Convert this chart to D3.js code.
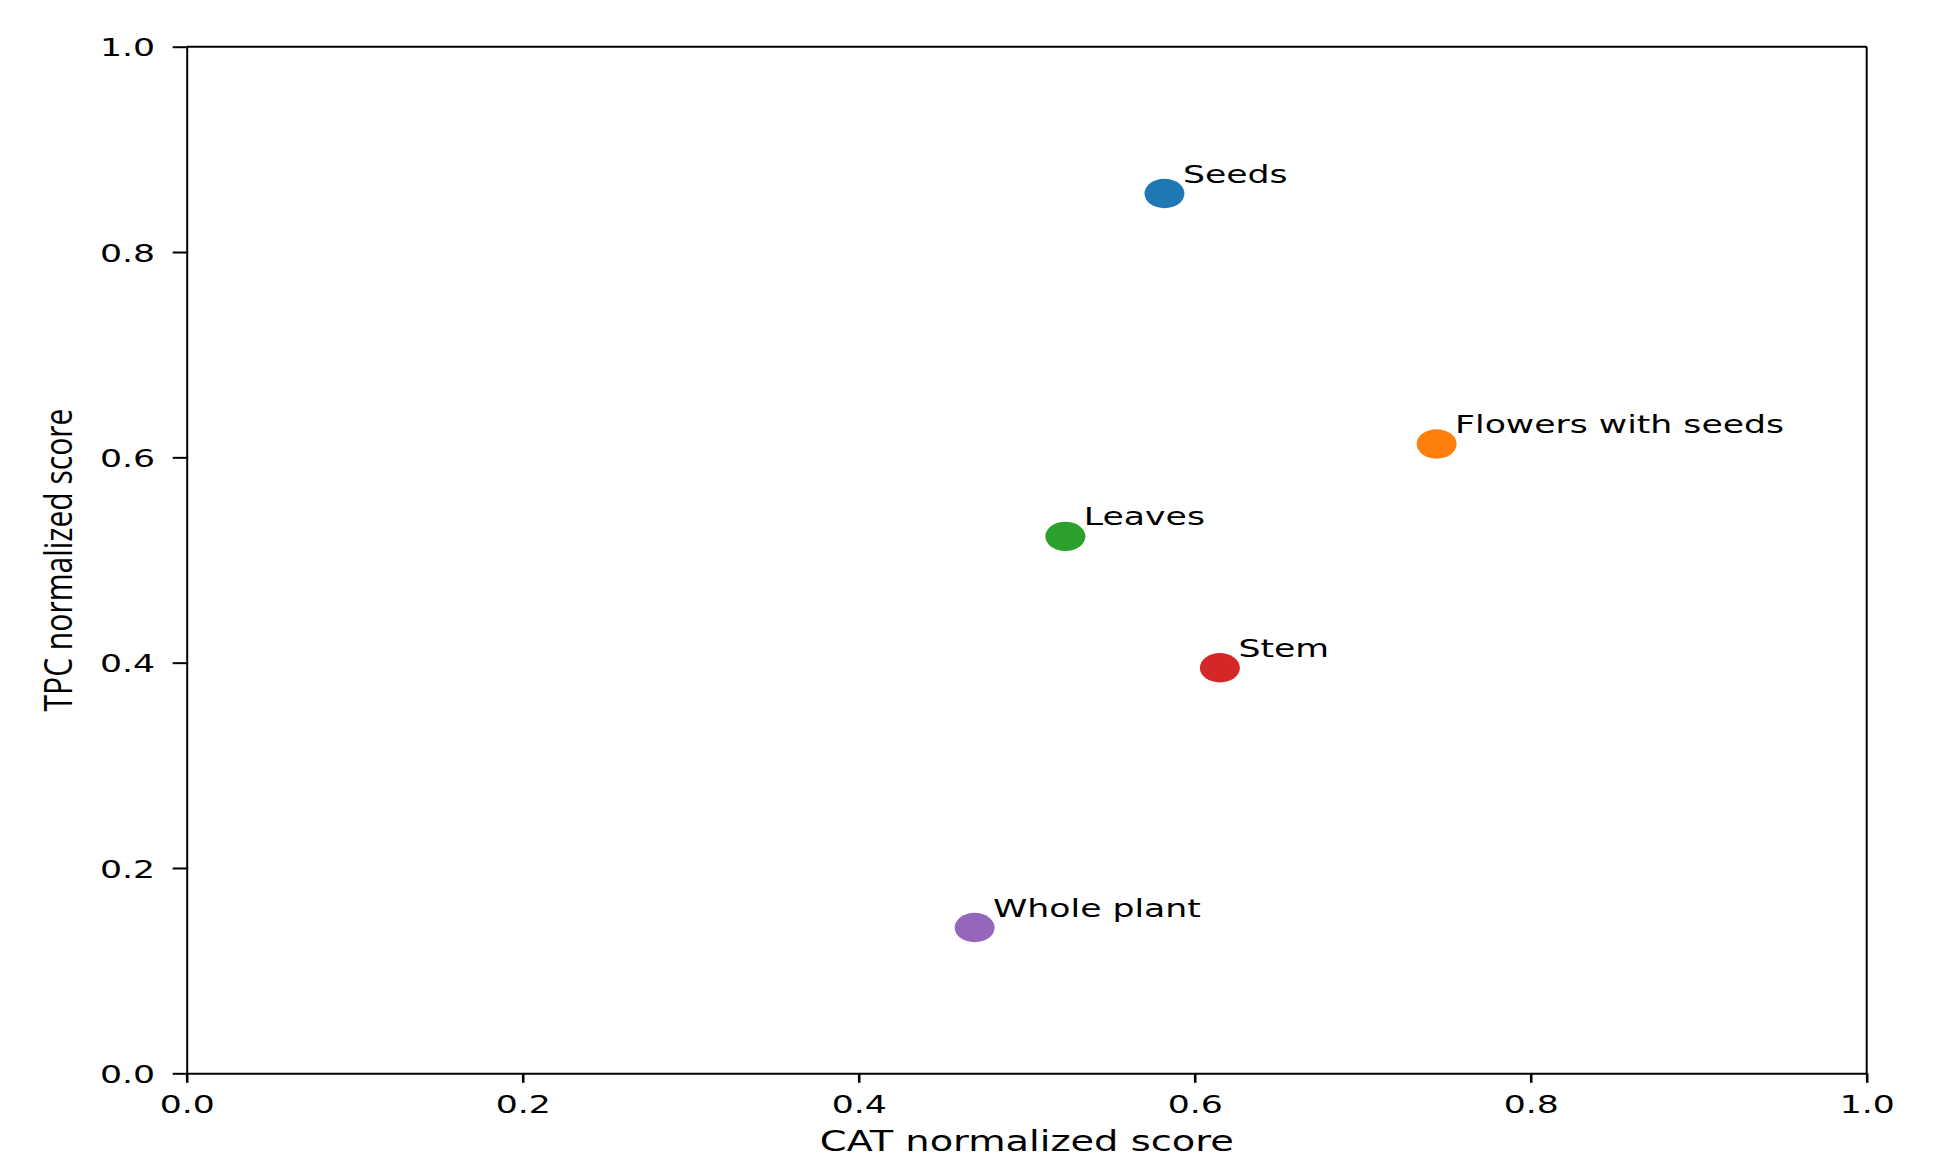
<!DOCTYPE html>
<html>
<head>
<meta charset="utf-8">
<script src="https://cdn.jsdelivr.net/npm/d3@7"></script>
<style>
  html, body { margin: 0; padding: 0; background: #fff; }
  svg { display: block; }
</style>
</head>
<body>
<svg id="chart" width="1937" height="1157"></svg>
<script>
// Plant parts and their normalized antioxidant scores
const parts = ["Seeds", "Flowers with seeds", "Leaves", "Stem", "Whole plant"];
const catScores = [0.582, 0.744, 0.523, 0.615, 0.469];
const tpcScores = [0.857, 0.613, 0.523, 0.395, 0.142];
const partColors = ["#1f77b4", "#ff7f0e", "#2ca02c", "#d62728", "#9467bd"];
const tickValues = [0.0, 0.2, 0.4, 0.6, 0.8, 1.0];
const tickLabels = ["0.0", "0.2", "0.4", "0.6", "0.8", "1.0"];

const W = 1937, H = 1157;
const plot = { left: 186.7, right: 1866.7, top: 46.7, bottom: 1073.3 };
const stretch = 1.37;          // horizontal widening of glyphs and markers
const fontMain = "'DejaVu Sans', sans-serif";
const fs = 25.3;

const svg = d3.select("#chart");

const x = d3.scaleLinear().domain([0, 1]).range([plot.left, plot.right]);
const y = d3.scaleLinear().domain([0, 1]).range([plot.bottom, plot.top]);

// X axis
const gx = svg.append("g")
  .attr("transform", `translate(0,${plot.bottom})`)
  .call(d3.axisBottom(x).tickValues(tickValues).tickFormat((d, i) => tickLabels[i])
    .tickSize(9.5).tickPadding(0).tickSizeOuter(0));
gx.select(".domain").attr("stroke", "#000").attr("stroke-width", 2);
gx.selectAll(".tick line").attr("stroke", "#000").attr("stroke-width", 2.6);
gx.selectAll(".tick text")
  .attr("y", null).attr("dy", null)
  .attr("transform", `translate(0,${21.7 + fs * 0.729}) scale(${stretch},1)`)
  .attr("font-family", fontMain).attr("font-size", fs).attr("fill", "#000");

// Y axis
const gy = svg.append("g")
  .attr("transform", `translate(${plot.left},0)`)
  .call(d3.axisLeft(y).tickValues(tickValues).tickFormat((d, i) => tickLabels[i])
    .tickSize(14).tickPadding(0).tickSizeOuter(0));
gy.select(".domain").attr("stroke", "#000").attr("stroke-width", 2);
gy.selectAll(".tick line").attr("stroke", "#000").attr("stroke-width", 2);
gy.selectAll(".tick text")
  .attr("x", null).attr("dy", null)
  .attr("transform", `translate(${-31.7},${fs * 0.36}) scale(${stretch},1)`)
  .attr("text-anchor", "end")
  .attr("font-family", fontMain).attr("font-size", fs).attr("fill", "#000");

// Top and right spines
svg.append("line")
  .attr("x1", x(0)).attr("x2", x(1)).attr("y1", y(1)).attr("y2", y(1))
  .attr("stroke", "#000").attr("stroke-width", 2);
svg.append("line")
  .attr("x1", x(1)).attr("x2", x(1)).attr("y1", y(1)).attr("y2", y(0))
  .attr("stroke", "#000").attr("stroke-width", 2);

// Points
const data = parts.map((p, i) => ({ name: p, cat: catScores[i], tpc: tpcScores[i], color: partColors[i] }));

svg.append("g").selectAll("ellipse")
  .data(data).join("ellipse")
  .attr("cx", d => x(d.cat)).attr("cy", d => y(d.tpc))
  .attr("rx", 14.7 * 1.36).attr("ry", 14.7)
  .attr("fill", d => d.color);

// Point labels
svg.append("g").selectAll("text")
  .data(data).join("text")
  .attr("transform", d => `translate(${x(d.cat) + 18.5},${y(d.tpc) - 11}) scale(${stretch},1)`)
  .attr("font-family", fontMain).attr("font-size", fs).attr("fill", "#000")
  .text(d => d.name);

// Axis titles
svg.append("text")
  .attr("transform", `translate(${(plot.left + plot.right) / 2},1151) scale(${stretch},1)`)
  .attr("text-anchor", "middle")
  .attr("font-family", fontMain).attr("font-size", 28).attr("fill", "#000")
  .text("CAT normalized score");

svg.append("text")
  .attr("transform", `translate(72,${(plot.top + plot.bottom) / 2}) rotate(-90)`)
  .attr("text-anchor", "middle")
  .attr("font-family", "'Liberation Sans Narrow', 'Open Sans', sans-serif")
  .attr("font-size", 38).attr("fill", "#000")
  .attr("textLength", 303).attr("lengthAdjust", "spacingAndGlyphs")
  .text("TPC normalized score");
</script>
</body>
</html>
